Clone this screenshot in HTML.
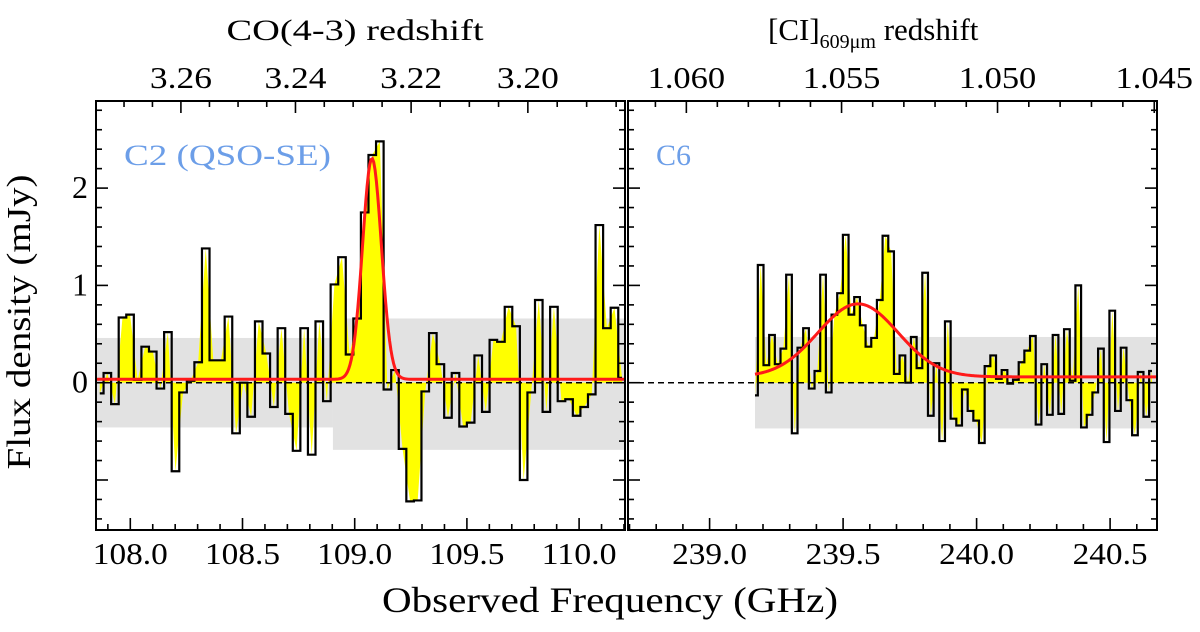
<!DOCTYPE html>
<html><head><meta charset="utf-8"><style>
html,body{margin:0;padding:0;background:#fff;}
svg{display:block;}
svg text{font-family:"Liberation Serif","DejaVu Serif",serif;}
</style></head><body>
<svg id="chart" width="1200" height="632" viewBox="0 0 1200 632" xmlns="http://www.w3.org/2000/svg" font-family="Liberation Serif, DejaVu Serif, serif">
<defs>
<clipPath id="clipL"><rect x="96" y="101" width="529" height="429"/></clipPath>
<clipPath id="clipR"><rect x="628" y="101" width="529" height="429"/></clipPath>
</defs>
<g id="panelL"></g>
<g id="panelR"></g>
<text x="30" y="322" font-size="34" text-anchor="middle" textLength="295" lengthAdjust="spacingAndGlyphs" transform="rotate(-90 30 322)">Flux density (mJy)</text>
<text x="610" y="612" font-size="36" text-anchor="middle" textLength="456" lengthAdjust="spacingAndGlyphs">Observed Frequency (GHz)</text>
<text x="355" y="40" font-size="30" text-anchor="middle" textLength="257" lengthAdjust="spacingAndGlyphs">CO(4-3) redshift</text>
<text x="768" y="40" font-size="31">[CI]<tspan font-size="20" dy="8">609μm</tspan><tspan dy="-8"> redshift</tspan></text>
<text x="124" y="165" font-size="30" fill="#6c9ee8" textLength="207" lengthAdjust="spacingAndGlyphs">C2 (QSO-SE)</text>
<text x="656" y="165" font-size="30" fill="#6c9ee8">C6</text>
</svg>
<script>
// ---- data ----
const leftFlux = [-0.11,0.10,-0.22,0.67,0.70,0.03,0.37,0.32,-0.06,0.52,
-0.91,-0.10,0.02,0.21,1.38,0.23,0.23,0.68,-0.52,0.00,
-0.35,0.63,0.30,-0.25,0.56,-0.32,-0.70,0.56,-0.74,0.63,
-0.19,1.01,1.29,0.29,0.66,1.75,2.34,2.48,-0.07,0.13,
-0.68,-1.22,-1.21,-0.09,0.51,0.19,-0.36,0.10,-0.45,-0.41,
0.28,-0.30,0.44,0.42,0.78,0.58,-1.00,-0.10,0.85,-0.30,
0.78,-0.19,-0.17,-0.34,-0.25,-0.12,1.62,0.56,0.77,0.05];
const rightFlux = [-0.13,1.21,0.18,0.49,0.19,0.35,1.11,-0.52,0.36,0.56,
-0.06,0.12,1.11,-0.10,0.70,0.92,1.52,0.70,0.88,0.59,
0.37,0.46,0.85,1.51,1.35,0.09,0.28,0.00,0.47,0.15,
1.13,-0.34,0.20,-0.60,0.63,-0.37,-0.44,-0.07,-0.29,-0.39,
-0.62,0.17,0.28,0.04,0.13,-0.01,0.03,0.21,0.33,0.48,
-0.43,0.19,-0.33,0.49,-0.32,0.55,0.02,1.00,-0.46,-0.33,
-0.10,0.35,-0.61,0.74,-0.29,0.36,-0.18,-0.54,0.11,-0.35,0.12];
const leftChannel = [107.864, 0.03373];   // first channel centre, width (GHz)
const rightChannel = [239.170, 0.02124];
const leftFit = [0.035, 2.27, 109.077, 0.042];   // baseline, amplitude, centre, sigma
const rightFit = [0.06, 0.75, 239.556, 0.150];
const leftBandBreak = 108.903;
const leftBandUpper = [0.46, 0.66];
const leftBandLower = [-0.46, -0.69];
const rightBandUpper = [0.47];
const rightBandLower = [-0.47];
const yTicks = [0, 1, 2];
const leftXTicks = [108.0, 108.5, 109.0, 109.5, 110.0];
const rightXTicks = [239.0, 239.5, 240.0, 240.5];
const leftZTicks = [3.26, 3.24, 3.22, 3.20];
const rightZTicks = [1.060, 1.055, 1.050, 1.045];
const restCO = 461.0408, restCI = 492.16065;

const NS = "http://www.w3.org/2000/svg";
const Y0 = 382.7, YS = 97.3, TOP = 101, BOT = 530;
const yS = v => Y0 - v * YS;
function el(parent, tag, attrs){ const e = document.createElementNS(NS, tag); for (const k in attrs) e.setAttribute(k, attrs[k]); parent.appendChild(e); return e; }

function panel(g, opt){
  const {x0, x1, f0, pxPerGHz, f0px, flux, ch, fit, clip} = opt;
  const xS = f => f0px + (f - f0) * pxPerGHz;
  const fL = f0 + (x0 - f0px) / pxPerGHz, fR = f0 + (x1 - f0px) / pxPerGHz;
  const cg = el(g, 'g', {'clip-path': `url(#${clip})`});
  for (const b of opt.band(fL, fR)){
    const r = el(cg, 'rect', {x: xS(b[0]), y: yS(b[2]), width: xS(b[1]) - xS(b[0]), height: yS(b[3]) - yS(b[2]), fill: '#e2e2e2'});
    
    
  }
  const n = flux.length;
  const cen = i => ch[0] + i * ch[1];
  let fd0 = `M${xS(cen(0)).toFixed(2)},${yS(0)}`;
  for (let i = 0; i < n; i++) fd0 += `L${xS(cen(i)).toFixed(2)},${yS(flux[i]).toFixed(2)}`;
  fd0 += `L${xS(cen(n-1)).toFixed(2)},${yS(0)}Z`;
  const fp = el(cg, 'path', {d: fd0, fill: '#ffff00', stroke: 'none'});
  
  
  let pts = [];
  pts.push([xS(cen(0)), yS(flux[0])]);
  for (let i = 0; i < n; i++){
    const a = (i === 0) ? cen(0) : cen(i) - ch[1] / 2;
    const b = (i === n - 1) ? cen(i) : cen(i) + ch[1] / 2;
    pts.push([xS(a), yS(flux[i])]); pts.push([xS(b), yS(flux[i])]);
  }
  const lineD = 'M' + pts.map(p => p[0].toFixed(2) + ',' + p[1].toFixed(2)).join('L');
  const zl = el(cg, 'line', {x1: x0, x2: x1, y1: yS(0), y2: yS(0), stroke: '#000', 'stroke-width': 1.5, 'stroke-dasharray': '6,4'});
  
  
  const sp = el(cg, 'path', {d: lineD, fill: 'none', stroke: '#000', 'stroke-width': 2.2, 'stroke-linejoin': 'miter'});
  
  
  const gs = opt.fitStart !== undefined ? opt.fitStart : fL;
  let fd = '';
  for (let k = 0; k <= 400; k++){
    const f = gs + (fR - gs) * k / 400;
    const v = fit[0] + fit[1] * Math.exp(-Math.pow(f - fit[2], 2) / (2 * fit[3] * fit[3]));
    fd += (k ? 'L' : 'M') + xS(f).toFixed(2) + ',' + yS(v).toFixed(2);
  }
  const gp = el(cg, 'path', {d: fd, fill: 'none', stroke: '#ff1a1a', 'stroke-width': 3});
  
  
  const fr = el(g, 'rect', {x: x0, y: TOP, width: x1 - x0, height: BOT - TOP, fill: 'none', stroke: '#000', 'stroke-width': 2});
  
  
  const tk = el(g, 'g', {stroke: '#000', 'stroke-width': 1.6});
  for (let v = -1.4; v <= 2.81; v += 0.2){
    const y = yS(v); if (y < TOP || y > BOT) continue;
    const major = Math.abs(v - Math.round(v)) < 1e-6;
    const L = major ? 12 : 6;
    el(tk, 'line', {x1: x0, x2: x0 + L, y1: y, y2: y});
    el(tk, 'line', {x1: x1, x2: x1 - L, y1: y, y2: y});
  }
  for (let f = Math.ceil(fL * 10) / 10; f <= fR; f += 0.1){
    const fr10 = Math.round(f * 10) / 10;
    const major = Math.abs(fr10 * 2 - Math.round(fr10 * 2)) < 1e-6;
    el(tk, 'line', {x1: xS(fr10), x2: xS(fr10), y1: BOT, y2: BOT - (major ? 12 : 6)});
  }
  for (const t of opt.xTicks){
    const s = t.toFixed(1);
    const tx = el(g, 'text', {x: xS(t), y: 564, 'font-size': 31, 'text-anchor': 'middle', textLength: s.length * 15, lengthAdjust: 'spacingAndGlyphs'});
    tx.textContent = s;
    
    
  }
  const zf = z => opt.rest / (1 + z);
  const zMin = opt.rest / fR - 1, zMax = opt.rest / fL - 1;
  for (let i = Math.ceil(zMin / opt.zMinor); i * opt.zMinor <= zMax; i++){
    const z = i * opt.zMinor;
    const major = opt.zTicks.some(t => Math.abs(t - z) < opt.zMinor / 10);
    el(tk, 'line', {x1: xS(zf(z)), x2: xS(zf(z)), y1: TOP, y2: TOP + (major ? 12 : 6)});
  }
  for (const t of opt.zTicks){
    const x = xS(zf(t)); if (x < x0 - 5 || x > x1 + 30) continue;
    const s = t.toFixed(opt.zDec);
    const tx = el(g, 'text', {x: x, y: 88, 'font-size': 31, 'text-anchor': 'middle', textLength: s.length * 15.5, lengthAdjust: 'spacingAndGlyphs'});
    tx.textContent = s;
    
    
  }
  if (opt.yLabels){
    for (const t of yTicks){
      const tx = el(g, 'text', {x: 88, y: yS(t) + 10, 'font-size': 32, 'text-anchor': 'end'});
      tx.textContent = t;
      
      
    }
  }
}

panel(document.getElementById('panelL'), {
  x0: 96, x1: 625, f0: 108.0, f0px: 130.3, pxPerGHz: 224.4,
  flux: leftFlux, ch: leftChannel, fit: leftFit, clip: 'clipL',
  band: (fL, fR) => [[fL, leftBandBreak, leftBandUpper[0], leftBandLower[0]], [leftBandBreak, fR, leftBandUpper[1], leftBandLower[1]]],
  xTicks: leftXTicks, zTicks: leftZTicks, rest: restCO, zMinor: 0.005, zDec: 2, yLabels: true
});
panel(document.getElementById('panelR'), {
  x0: 628, x1: 1157, f0: 239.0, f0px: 709.6, pxPerGHz: 267,
  flux: rightFlux, ch: rightChannel, fit: rightFit, clip: 'clipR',
  fitStart: rightChannel[0],
  band: (fL, fR) => [[rightChannel[0], fR, rightBandUpper[0], rightBandLower[0]]],
  xTicks: rightXTicks, zTicks: rightZTicks, rest: restCI, zMinor: 0.001, zDec: 3, yLabels: false
});
</script>
</body></html>
